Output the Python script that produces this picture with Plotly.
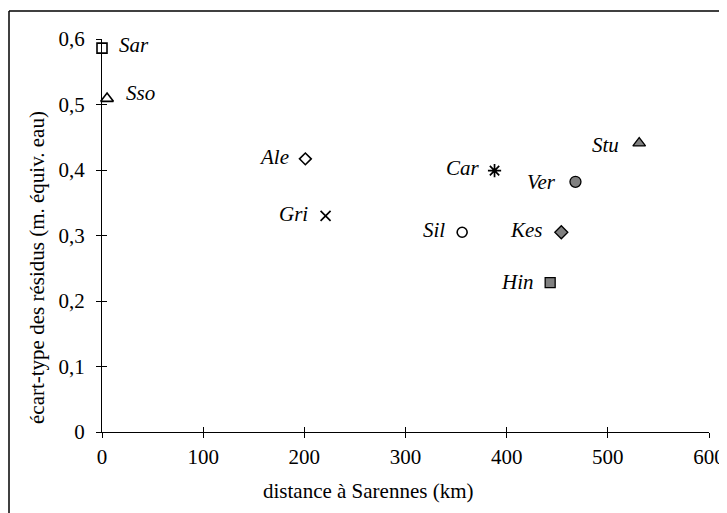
import plotly.graph_objects as go

# ---- data ----
stations = ["Sar", "Sso", "Ale", "Gri", "Car", "Sil", "Kes", "Hin", "Ver", "Stu"]
distance_km = [0, 5, 201, 221, 388, 356, 454, 443, 468, 531]
ecart_type = [0.586, 0.509, 0.417, 0.330, 0.399, 0.305, 0.305, 0.228, 0.382, 0.441]
x_ticks = [0, 100, 200, 300, 400, 500, 600]
y_ticks = [0, 0.1, 0.2, 0.3, 0.4, 0.5, 0.6]
y_ticktext = ["0", "0,1", "0,2", "0,3", "0,4", "0,5", "0,6"]

# ---- styles ----
GRAY = "#808080"
styles = {
    "Sar": dict(symbol="square-open", size=10, color="black", line=dict(width=1.6, color="black")),
    "Sso": dict(symbol="triangle-up-open", size=11, color="black", line=dict(width=1.6, color="black")),
    "Ale": dict(symbol="diamond-open", size=9, color="black", line=dict(width=1.6, color="black")),
    "Gri": dict(symbol="x-thin-open", size=10, color="black", line=dict(width=1.7, color="black")),
    "Car": dict(symbol="asterisk-open", size=11, color="black", line=dict(width=1.7, color="black")),
    "Sil": dict(symbol="circle-open", size=10, color="black", line=dict(width=1.6, color="black")),
    "Kes": dict(symbol="diamond", size=10, color=GRAY, line=dict(width=1.3, color="black")),
    "Hin": dict(symbol="square", size=10, color=GRAY, line=dict(width=1.3, color="black")),
    "Ver": dict(symbol="circle", size=11, color=GRAY, line=dict(width=1.3, color="black")),
    "Stu": dict(symbol="triangle-up", size=11, color=GRAY, line=dict(width=1.3, color="black")),
}
label_pos = {  # (xanchor, xshift, yshift)
    "Sar": ("left", 15, 3),
    "Sso": ("left", 17, 6),
    "Ale": ("right", -14, 2),
    "Gri": ("right", -16, 2),
    "Car": ("right", -13, 3),
    "Sil": ("right", -15, 2),
    "Kes": ("right", -16, 2),
    "Hin": ("right", -14, 1),
    "Ver": ("right", -17, 0),
    "Stu": ("right", -18, -2),
}

FONT = "Liberation Serif"
FS = 21
fig = go.Figure()
for name, x, y in zip(stations, distance_km, ecart_type):
    fig.add_trace(go.Scatter(x=[x], y=[y], mode="markers", marker=styles[name],
                             showlegend=False, cliponaxis=False, name=name))
    xa, xs, ys = label_pos[name]
    fig.add_annotation(x=x, y=y, text=f"<i>{name}</i>", showarrow=False,
                       xanchor=xa, yanchor="middle", xshift=xs, yshift=ys,
                       font=dict(family=FONT, size=FS, color="black"))

# invisible overlay trace for the inner tick halves
fig.add_trace(go.Scatter(x=[None], y=[None], xaxis="x2", yaxis="y2", showlegend=False))

# the page body has an 8px margin: the figure is laid out smaller to compensate
OFF = 8
W, H = 727 - OFF, 513 - OFF
L, R, T = 102 - OFF, 18, 39 - OFF
B = H - T - (432 - 39)
pw, ph = W - L - R, H - T - B

def px_to_paper_x(px):  # screen px -> paper
    return (px - OFF - L) / pw

def px_to_paper_y(py):
    return (H - B - (py - OFF)) / ph

fig.update_layout(
    width=W, height=H,
    margin=dict(l=L, r=R, t=T, b=B, autoexpand=False),
    paper_bgcolor="white", plot_bgcolor="white",
    separators=", ",
    font=dict(family=FONT, size=FS, color="black"),
    xaxis=dict(range=[0, 600], tickvals=x_ticks, showgrid=False, zeroline=False,
               showline=True, linecolor="black", linewidth=1,
               ticks="outside", ticklen=5, tickcolor="black", tickwidth=1,
               tickfont=dict(family=FONT, size=FS), ticklabelstandoff=1),
    yaxis=dict(range=[0, 0.6], tickvals=y_ticks, ticktext=y_ticktext, showgrid=False,
               zeroline=False, showline=True, linecolor="black", linewidth=1,
               ticks="outside", ticklen=5, tickcolor="black", tickwidth=1,
               tickfont=dict(family=FONT, size=FS), ticklabelstandoff=7),
    xaxis2=dict(range=[0, 600], tickvals=x_ticks, overlaying="x", anchor="y",
                showticklabels=False, showgrid=False, zeroline=False,
                ticks="inside", ticklen=5, tickcolor="black", side="bottom"),
    yaxis2=dict(range=[0, 0.6], tickvals=y_ticks, overlaying="y", anchor="x",
                showticklabels=False, showgrid=False, zeroline=False,
                ticks="inside", ticklen=5, tickcolor="black", side="left"),
)

# axis titles
fig.add_annotation(xref="paper", yref="paper", x=px_to_paper_x(368), y=px_to_paper_y(491),
                   text="distance à Sarennes (km)", showarrow=False,
                   xanchor="center", yanchor="middle",
                   font=dict(family=FONT, size=FS))
fig.add_annotation(xref="paper", yref="paper", x=px_to_paper_x(37), y=px_to_paper_y(268),
                   text="écart-type des résidus (m. équiv. eau)", showarrow=False,
                   textangle=-90, xanchor="center", yanchor="middle",
                   font=dict(family=FONT, size=FS))

# outer frame (top and left edges visible)
fig.add_shape(type="line", xref="paper", yref="paper",
              x0=px_to_paper_x(9), y0=px_to_paper_y(11), x1=px_to_paper_x(727), y1=px_to_paper_y(11),
              line=dict(color="black", width=1.5))
fig.add_shape(type="line", xref="paper", yref="paper",
              x0=px_to_paper_x(9), y0=px_to_paper_y(11), x1=px_to_paper_x(9), y1=px_to_paper_y(513),
              line=dict(color="black", width=1.5))

fig.write_html("out.html")
